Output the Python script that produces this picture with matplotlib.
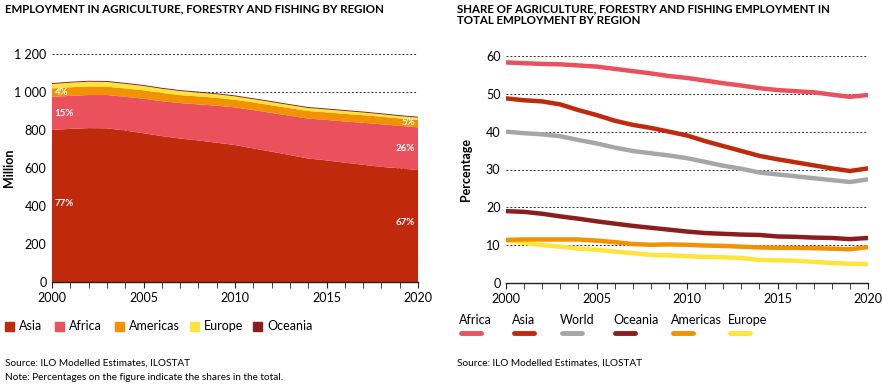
import matplotlib.pyplot as plt
from matplotlib.lines import Line2D
from matplotlib.patches import Rectangle
from matplotlib.ticker import FuncFormatter, MultipleLocator

plt.rcParams["font.family"] = ["Lato", "DejaVu Sans"]

years = list(range(2000, 2021))

# left chart: employment in agriculture, millions
asia = [800, 806, 810, 809, 797, 783, 768, 755, 745, 733, 721,
        703, 686, 668, 650, 640, 628, 617, 606, 598, 589]
africa = [174, 174, 174, 175, 178, 182, 184, 187, 190, 195, 198,
          202, 204, 207, 210, 213, 217, 221, 224, 224, 225]
americas = [45, 45, 45, 44, 44, 44, 43, 42, 42, 41, 40,
            40, 40, 40, 40, 40, 40, 40, 40, 39, 39]
europe = [23, 24, 25, 25, 24, 23, 22, 21, 20, 19, 18,
          17, 17, 16, 16, 15, 15, 14, 13, 12, 12]
oceania = [5, 5, 5, 5, 5, 5, 5, 5, 5, 5, 5,
           5, 5, 5, 5, 5, 5, 5, 5, 5, 5]

stack_labels = ["Asia", "Africa", "Americas", "Europe", "Oceania"]
stack_colors = ["#c0290b", "#ea515c", "#f39200", "#ffe53b", "#8c1d1d"]

# share labels written on the area chart
share_2000 = ["77%", "15%", "4%"]
share_2020 = ["67%", "26%", "5%"]

# right chart: share of agriculture in total employment, %
share = {
    "Africa": [58.3, 58.1, 57.9, 57.8, 57.5, 57.2, 56.6, 56.0, 55.4, 54.7, 54.2,
               53.5, 52.8, 52.2, 51.5, 51.0, 50.7, 50.4, 49.8, 49.2, 49.7],
    "Asia": [48.8, 48.3, 48.0, 47.2, 45.7, 44.4, 42.9, 41.8, 41.0, 40.0, 39.0,
             37.5, 36.2, 34.9, 33.6, 32.7, 31.9, 31.1, 30.3, 29.6, 30.3],
    "World": [40.0, 39.6, 39.3, 38.8, 37.8, 36.9, 35.8, 34.9, 34.3, 33.7, 33.0,
              32.0, 31.0, 30.2, 29.2, 28.7, 28.2, 27.7, 27.2, 26.7, 27.4],
    "Oceania": [19.0, 18.8, 18.3, 17.6, 17.0, 16.3, 15.7, 15.1, 14.6, 14.1, 13.6,
                13.2, 13.0, 12.8, 12.7, 12.3, 12.2, 12.0, 11.9, 11.6, 11.9],
    "Americas": [11.4, 11.5, 11.5, 11.5, 11.5, 11.2, 10.8, 10.3, 10.1, 10.2, 10.1,
                 9.9, 9.8, 9.6, 9.4, 9.3, 9.3, 9.2, 9.1, 8.9, 9.5],
    "Europe": [11.3, 10.6, 10.0, 9.6, 9.1, 8.8, 8.3, 7.9, 7.4, 7.3, 7.1,
               6.9, 6.8, 6.6, 6.1, 6.0, 5.9, 5.6, 5.3, 5.1, 5.0],
}
line_colors = {"Africa": "#ea515c", "Asia": "#c0290b", "World": "#a6a6a6",
               "Oceania": "#8c1d1d", "Americas": "#f39200", "Europe": "#ffe53b"}

fig = plt.figure(figsize=(8.82, 3.84), dpi=100)
W, H = 882, 384


def style_axis(ax):
    for s in ["left", "right", "top"]:
        ax.spines[s].set_visible(False)
    ax.spines["bottom"].set_color("#222222")
    ax.spines["bottom"].set_linewidth(1.0)
    ax.set_xlim(2000, 2020)
    ax.xaxis.set_major_locator(MultipleLocator(5))
    ax.xaxis.set_minor_locator(MultipleLocator(1))
    ax.tick_params(axis="x", which="both", direction="out", length=4,
                   color="#222222", labelsize=9, pad=3)
    ax.tick_params(axis="y", length=0, labelsize=9, pad=4)
    ax.grid(axis="y", linestyle=(0, (2, 2)), color="#333333", linewidth=0.7)
    ax.set_axisbelow(True)


# ---- left: stacked area
ax1 = fig.add_axes([52 / W, 1 - 282 / H, 366 / W, 228 / H])
ax1.stackplot(years, asia, africa, americas, europe, oceania,
              colors=stack_colors, linewidth=0)
ax1.set_ylim(0, 1200)
ax1.yaxis.set_major_locator(MultipleLocator(200))
ax1.yaxis.set_major_formatter(FuncFormatter(lambda v, p: f"{int(v):,}".replace(",", " ")))
style_axis(ax1)
ax1.set_ylabel("Million", fontsize=9, fontweight="bold")
ax1.yaxis.set_label_coords(-0.1, 0.5)

# share labels
lab_kw = dict(color="white", fontsize=7, fontweight="bold", va="center")
ax1.text(2000.15, 415, share_2000[0], **lab_kw)
ax1.text(2000.15, 888, share_2000[1], **lab_kw)
ax1.text(2000.15, 995, share_2000[2], **lab_kw)
ax1.text(2019.85, 315, share_2020[0], ha="right", **lab_kw)
ax1.text(2019.85, 705, share_2020[1], ha="right", **lab_kw)
ax1.text(2019.85, 842, share_2020[2], ha="right", **lab_kw)

# ---- right: lines
ax2 = fig.add_axes([506 / W, 1 - 283 / H, 362 / W, 227 / H])
for name in ["Europe", "Americas", "Oceania", "World", "Asia", "Africa"]:
    ax2.plot(years, share[name], color=line_colors[name], linewidth=3.2,
             solid_capstyle="round", solid_joinstyle="round")
ax2.set_ylim(0, 60)
ax2.yaxis.set_major_locator(MultipleLocator(10))
style_axis(ax2)
ax2.set_ylabel("Percentage", fontsize=9, fontweight="bold")
ax2.yaxis.set_label_coords(-0.095, 0.5)

# ---- titles
fig.text(5 / W, 1 - 9 / H, "EMPLOYMENT IN AGRICULTURE, FORESTRY AND FISHING BY REGION",
         fontsize=8.3, fontweight="bold", va="center", ha="left")
fig.text(457 / W, 1 - 15 / H,
         "SHARE OF AGRICULTURE, FORESTRY AND FISHING EMPLOYMENT IN\nTOTAL EMPLOYMENT BY REGION",
         fontsize=8.3, fontweight="bold", va="center", ha="left", linespacing=1.05)

# ---- left legend
leg_x = [5, 55, 115, 190, 253]
for x, lab, col in zip(leg_x, stack_labels, stack_colors):
    fig.add_artist(Rectangle((x / W, 1 - 331 / H), 9 / W, 9 / H, color=col,
                             transform=fig.transFigure))
    fig.text((x + 14) / W, 1 - 326 / H, lab, fontsize=9, va="center", ha="left")

# ---- right legend
leg2_x = [459, 512, 560, 613, 671, 728]
for x, name in zip(leg2_x, ["Africa", "Asia", "World", "Oceania", "Americas", "Europe"]):
    fig.text(x / W, 1 - 320 / H, name, fontsize=9, va="center", ha="left")
    fig.add_artist(Line2D([(x + 2) / W, (x + 22) / W], [1 - 333 / H, 1 - 333 / H],
                          color=line_colors[name], linewidth=3.5,
                          solid_capstyle="round", transform=fig.transFigure))

# ---- sources
fig.text(5 / W, 1 - 363 / H, "Source: ILO Modelled Estimates, ILOSTAT", fontsize=7.2, va="center")
fig.text(5 / W, 1 - 378 / H, "Note: Percentages on the figure indicate the shares in the total.",
         fontsize=7.2, va="center")
fig.text(457 / W, 1 - 363 / H, "Source: ILO Modelled Estimates, ILOSTAT", fontsize=7.2, va="center")

fig.savefig("out.png", dpi=100)
